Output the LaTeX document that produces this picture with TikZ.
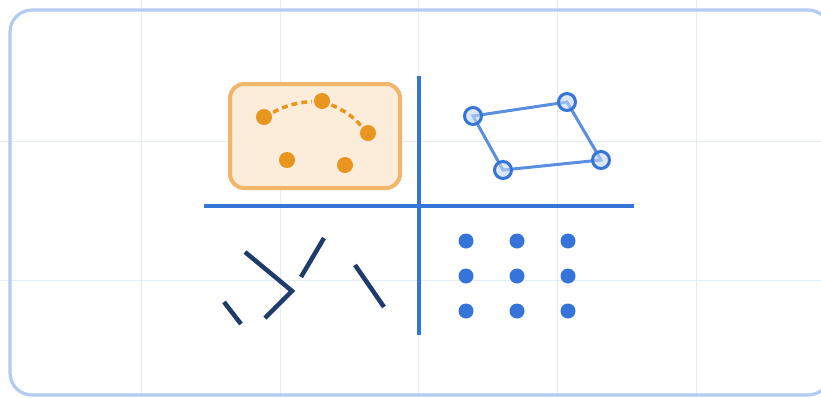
\documentclass[tikz,border=0pt]{standalone}
\usetikzlibrary{calc}
\definecolor{gridblue}{HTML}{E4ECF7}
\definecolor{framblue}{HTML}{B3CBF1}
\definecolor{axisblue}{HTML}{3574D8}
\definecolor{polyblue}{HTML}{5A8FE0}
\definecolor{vertfill}{HTML}{C6D8F4}
\definecolor{dotorange}{HTML}{E8961F}
\definecolor{boxfill}{HTML}{FCECDA}
\definecolor{boxedge}{HTML}{F1B669}
\definecolor{navy}{HTML}{1F3B6C}
\tikzset{
  odot/.style={circle, fill=dotorange, inner sep=0pt, minimum size=16pt},
  bdot/.style={circle, fill=axisblue, inner sep=0pt, minimum size=15pt},
  vert/.style={circle, draw=axisblue, fill=vertfill, fill opacity=0.6, line width=3pt, inner sep=0pt, minimum size=17pt},
  axis/.style={draw=axisblue, line width=4pt},
  stroke/.style={draw=navy, line width=4.5pt},
  edge/.style={draw=polyblue, line width=3pt},
  arcdash/.style={dotorange, line width=3.5pt, dash pattern=on 6pt off 4pt, shorten <=2pt, shorten >=2pt},
}
\begin{document}
\begin{tikzpicture}[x=1pt, y=-1pt]
\useasboundingbox (0,0) rectangle (821,397);
\fill[white] (0,0) rectangle (821,397);
% background grid
\foreach \gx in {141,280,418,557,696}
  \draw[gridblue, line width=1pt] (\gx,0) -- (\gx,397);
\foreach \gy in {141,280}
  \draw[gridblue, line width=1pt] (0,\gy) -- (821,\gy);
% outer frame
\draw[framblue, line width=3.2pt, rounded corners=22pt] (10,10) rectangle (830,395);
% axes
\coordinate (vt) at (419,76);
\coordinate (vb) at (419,335);
\coordinate (hl) at (204,206);
\coordinate (hr) at (634,206);
\draw[axis] (vt) -- (vb);
\draw[axis] (hl) -- (hr);
% upper left: orange cluster
\draw[boxedge, fill=boxfill, line width=4pt, rounded corners=14pt] (230,84) rectangle (400,188);
\node[odot] (o1) at (264,117) {};
\node[odot] (o2) at (322,101) {};
\node[odot] (o3) at (368,133) {};
\node[odot] (o4) at (287,160) {};
\node[odot] (o5) at (345,165) {};
\draw[arcdash] (o1) to[bend left=12] (o2);
\draw[arcdash] (o2) to[bend left=12] (o3);
% upper right: parallelogram
\coordinate (p1) at (473,116);
\coordinate (p2) at (567,102);
\coordinate (p3) at (601,160);
\coordinate (p4) at (503,170);
\draw[edge] (p1) -- (p2) -- (p3) -- (p4) -- cycle;
\node[vert] (v1) at (p1) {};
\node[vert] (v2) at (p2) {};
\node[vert] (v3) at (p3) {};
\node[vert] (v4) at (p4) {};
% lower left: scattered strokes
\coordinate (s1) at (245,252);
\coordinate (s2) at (292,291);
\coordinate (s3) at (265,318);
\coordinate (s4) at (224,302);
\coordinate (s5) at (241,324);
\coordinate (s6) at (301,277);
\coordinate (s7) at (324,238);
\coordinate (s8) at (355,265);
\coordinate (s9) at (384,307);
\draw[stroke] (s1) -- (s2) -- (s3);
\draw[stroke] (s4) -- (s5);
\draw[stroke] (s6) -- (s7);
\draw[stroke] (s8) -- (s9);
% lower right: regular dots
\foreach \dx [count=\i] in {466,517,568}
  \foreach \dy [count=\j] in {241,276,311}
    \node[bdot] (d\i\j) at (\dx,\dy) {};
\end{tikzpicture}
\end{document}
